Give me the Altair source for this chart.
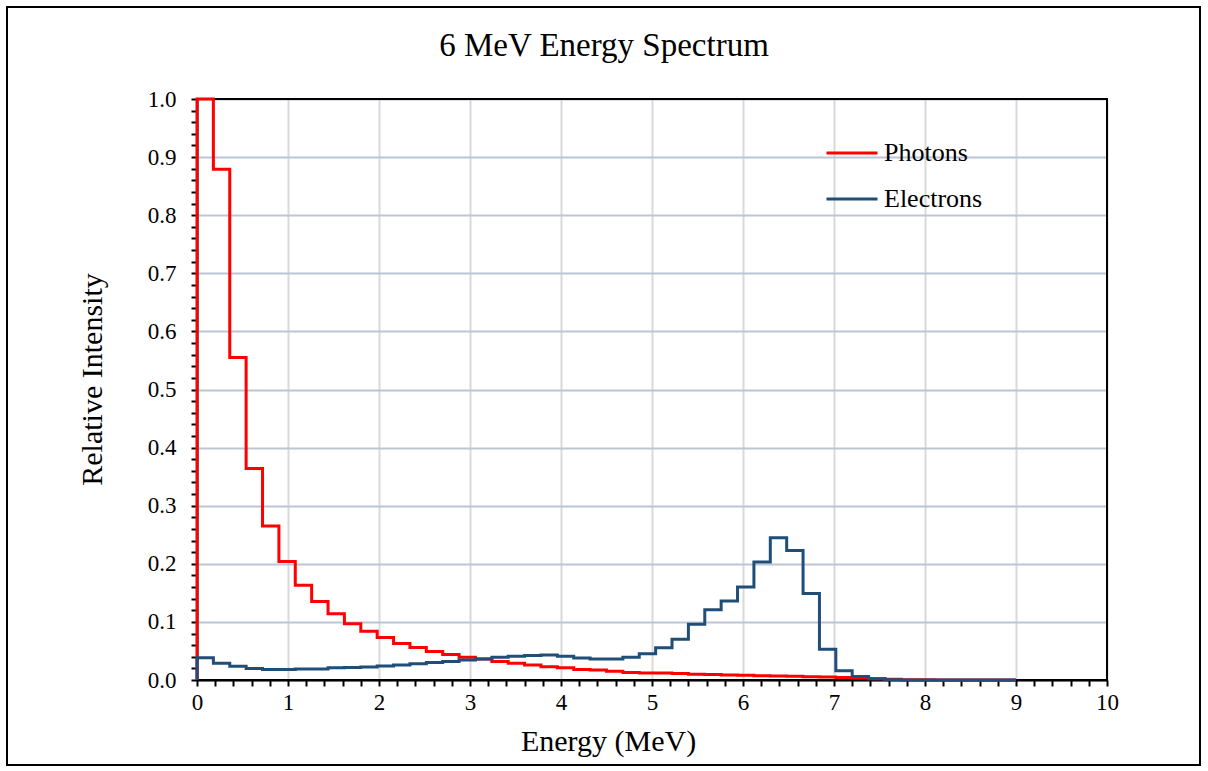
import altair as alt
import pandas as pd

# Bin edges (MeV) shared by both spectra
bin_edges = [0.00, 0.18, 0.36, 0.54, 0.72, 0.90, 1.08, 1.26, 1.44, 1.62,
             1.80, 1.98, 2.16, 2.34, 2.52, 2.70, 2.88, 3.06, 3.24, 3.42,
             3.60, 3.78, 3.96, 4.14, 4.32, 4.50, 4.68, 4.86, 5.04, 5.22,
             5.40, 5.58, 5.76, 5.94, 6.12, 6.30, 6.48, 6.66, 6.84, 7.02,
             7.20, 7.38, 7.56, 7.74, 7.92, 8.10, 8.28, 8.46, 8.64, 8.82, 9.00]

photons = [1.0, 0.879, 0.555, 0.364, 0.265, 0.204, 0.163, 0.135, 0.114, 0.097,
           0.084, 0.073, 0.063, 0.056, 0.049, 0.044, 0.039, 0.036, 0.032, 0.029,
           0.026, 0.023, 0.021, 0.018, 0.017, 0.015, 0.013, 0.012, 0.012, 0.011,
           0.010, 0.0095, 0.0086, 0.008, 0.0075, 0.007, 0.0063, 0.0057, 0.005, 0.0045,
           0.0035, 0.002, 0.0012, 0.0006, 0.0003, 0.0002, 0.0001, 0.0001, 0.0, 0.0]

electrons = [0.0385, 0.0287, 0.0236, 0.020, 0.018, 0.018, 0.019, 0.019, 0.021, 0.0215,
             0.0224, 0.024, 0.026, 0.028, 0.030, 0.032, 0.0345, 0.036, 0.039, 0.041,
             0.042, 0.043, 0.041, 0.038, 0.036, 0.036, 0.039, 0.045, 0.0556, 0.070,
             0.096, 0.121, 0.136, 0.160, 0.203, 0.245, 0.223, 0.149, 0.053, 0.016,
             0.006, 0.002, 0.0005, 0.0002, 0.0001, 0.0, 0.0, 0.0, 0.0, 0.0]

series_names = ["Photons", "Electrons"]
series_colors = ["#ff0000", "#1f4e79"]

rows = []
for name, vals in zip(series_names, (photons, electrons)):
    rows.append({"series": name, "energy": bin_edges[0], "intensity": 0.0, "k": 0})
    for i, v in enumerate(vals):
        rows.append({"series": name, "energy": bin_edges[i], "intensity": v, "k": i + 1})
    rows.append({"series": name, "energy": bin_edges[-1], "intensity": vals[-1], "k": len(vals) + 1})
df = pd.DataFrame(rows)

x_ticks = [round(0.2 * i, 1) for i in range(51)]
y_ticks = [round(0.02 * i, 2) for i in range(51)]
major_x = "abs(datum.value - round(datum.value)) < 0.001"
major_y = "abs(datum.value * 10 - round(datum.value * 10)) < 0.001"

FONT = "Liberation Serif"

x_axis = alt.Axis(
    values=x_ticks, labelExpr=f"{major_x} ? format(datum.value, 'd') : ''",
    labelOverlap=False, labelFlush=False, labelFont=FONT, labelFontSize=23,
    labelColor="black", labelPadding=5,
    grid=True, gridColor="#d9d9d9", gridWidth=2,
    gridOpacity={"condition": {"test": major_x, "value": 1}, "value": 0},
    domainColor="black", domainWidth=2, tickColor="black", tickWidth=2, tickSize=6,
    title="Energy (MeV)", titleFont=FONT, titleFontSize=30, titleFontWeight="normal",
    titleColor="black", titleX=411, titleY=70, titleBaseline="alphabetic",
    titleAlign="center",
)
y_axis = alt.Axis(
    values=y_ticks, labelExpr=f"{major_y} ? format(datum.value, '.1f') : ''",
    labelOverlap=False, labelFlush=False, labelFont=FONT, labelFontSize=23,
    labelColor="black", labelPadding=15,
    grid=True, gridColor="#bcc6d6", gridWidth=2,
    gridOpacity={"condition": {"test": major_y, "value": 1}, "value": 0},
    domainColor="black", domainWidth=2, tickColor="black", tickWidth=2, tickSize=6,
    title="Relative Intensity", titleFont=FONT, titleFontSize=30, titleFontWeight="normal",
    titleColor="black", titleX=-96, titleY=280, titleBaseline="alphabetic",
    titleAlign="center", titleAngle=270,
)

one = pd.DataFrame({"a": [0]})

# black frame around the plotting area (drawn above the grid, below the data)
frame = alt.Chart(one).mark_rect(
    fill=None, fillOpacity=0, stroke="black", strokeWidth=2
).encode(
    x=alt.value(0), x2=alt.value(910), y=alt.value(0), y2=alt.value(581)
)

lines = alt.Chart(df).mark_line(interpolate="step-after", strokeWidth=3).encode(
    x=alt.X("energy:Q", scale=alt.Scale(domain=[0, 10], nice=False, zero=False), axis=x_axis),
    y=alt.Y("intensity:Q", scale=alt.Scale(domain=[0, 1], nice=False), axis=y_axis),
    color=alt.Color(
        "series:N",
        scale=alt.Scale(domain=series_names, range=series_colors),
        legend=alt.Legend(
            orient="none", legendX=628, legendY=27, title=None,
            symbolType="stroke", symbolSize=2600, symbolStrokeWidth=3,
            labelFont=FONT, labelFontSize=26, labelColor="black", labelOffset=5,
            rowPadding=6, padding=0,
        ),
    ),
    order=alt.Order("k:Q"),
)

border = alt.Chart(one).mark_rect(
    fill=None, fillOpacity=0, stroke="black", strokeWidth=2
).encode(
    x=alt.value(-190), x2=alt.value(1003), y=alt.value(-92), y2=alt.value(666)
)
title = alt.Chart(one).mark_text(
    text="6 MeV Energy Spectrum", font=FONT, fontSize=33, color="black",
    align="center", baseline="alphabetic"
).encode(x=alt.value(407), y=alt.value(-43))

chart = alt.layer(frame, lines, border, title).properties(
    width=910, height=581,
    autosize=alt.AutoSizeParams(type="none"),
    padding={"left": 197, "top": 99, "right": 101, "bottom": 91},
    background="white",
).configure(font=FONT).configure_view(stroke="black", strokeWidth=2).configure_axis(
    labelFont=FONT, titleFont=FONT
).configure_legend(labelFont=FONT)

chart.save("out.html", embed_options={"renderer": "svg", "actions": False})
